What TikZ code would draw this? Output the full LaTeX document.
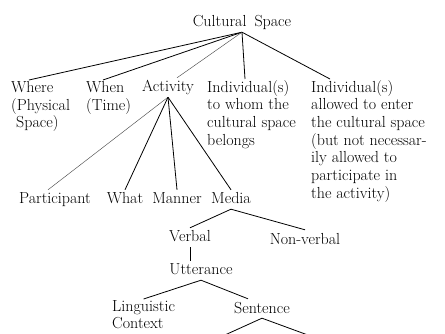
\documentclass[tikz,border=0pt]{standalone}
\usepackage{tikz}

\begin{document}
\begin{tikzpicture}[x=1pt,y=-1pt,
    every node/.style={font=\fontsize{16}{17.7}\selectfont, inner sep=1pt},
    lbl/.style={anchor=base, text height=13pt, text depth=4pt},
    blk/.style={anchor=north west, align=left},
    br/.style={line width=0.8pt},
    faint/.style={line width=0.45pt, black!70}]
        \useasboundingbox (0,0) rectangle (445,334);
        \clip (0,0) rectangle (445,334);

        \node[lbl] (cs) at (242,27) {Cultural\enspace Space};
        \node[blk] (where) at (10,80) {Where\\(Physical\\\hspace*{5pt}Space)};
        \node[blk] (when) at (85,80) {When\\(Time)};
        \node[lbl] (act) at (168,92) {Activity};
        \node[blk] (own) at (206,79) {Individual(s)\\to whom the\\cultural space\\belongs};
        \node[blk] (enter) at (310,79)
          {Individual(s)\\allowed to enter\\the cultural space\\(but not necessar-\\ily allowed to\\participate in\\the activity)};

        \node[lbl] (part) at (55,204) {Participant};
        \node[lbl] (what) at (125,204) {What};
        \node[lbl] (manner) at (177,204) {Manner};
        \node[lbl] (media) at (231,204) {Media};
        \node[lbl] (verbal) at (190,242) {Verbal};
        \node[lbl] (nonverbal) at (305,244) {Non-verbal};
        \node[lbl] (utt) at (201,275) {Utterance};
        \node[blk] (ling) at (111,299) {Linguistic\\Context};
        \node[lbl] (sent) at (262,313) {Sentence};
        \coordinate (sl) at (194,349);
        \coordinate (sr) at (346,349);

        \draw[br] (cs.south) edge ([xshift=19pt]where.north west)
                  (cs.south) edge ([xshift=18pt]when.north west)
                  (cs.south) edge ([xshift=39pt]own.north west)
                  (cs.south) edge ([xshift=20pt]enter.north west);
        \draw[faint] (cs.south) -- ([xshift=9pt]act.north);
        \draw[faint] (act.south) -- ([xshift=-7pt]part.north);
        \draw[br] (act.south) edge (what.north)
                  (act.south) edge (manner.north)
                  (act.south) edge (media.north)
                  (media.south) edge (verbal.north)
                  (media.south) edge (nonverbal.north)
                  (verbal.south) edge (verbal.south |- utt.north)
                  (utt.south) edge (ling.north)
                  (utt.south) edge ([xshift=-14pt]sent.north)
                  (sent.south) edge (sl)
                  (sent.south) edge (sr);
      \end{tikzpicture}
\end{document}
